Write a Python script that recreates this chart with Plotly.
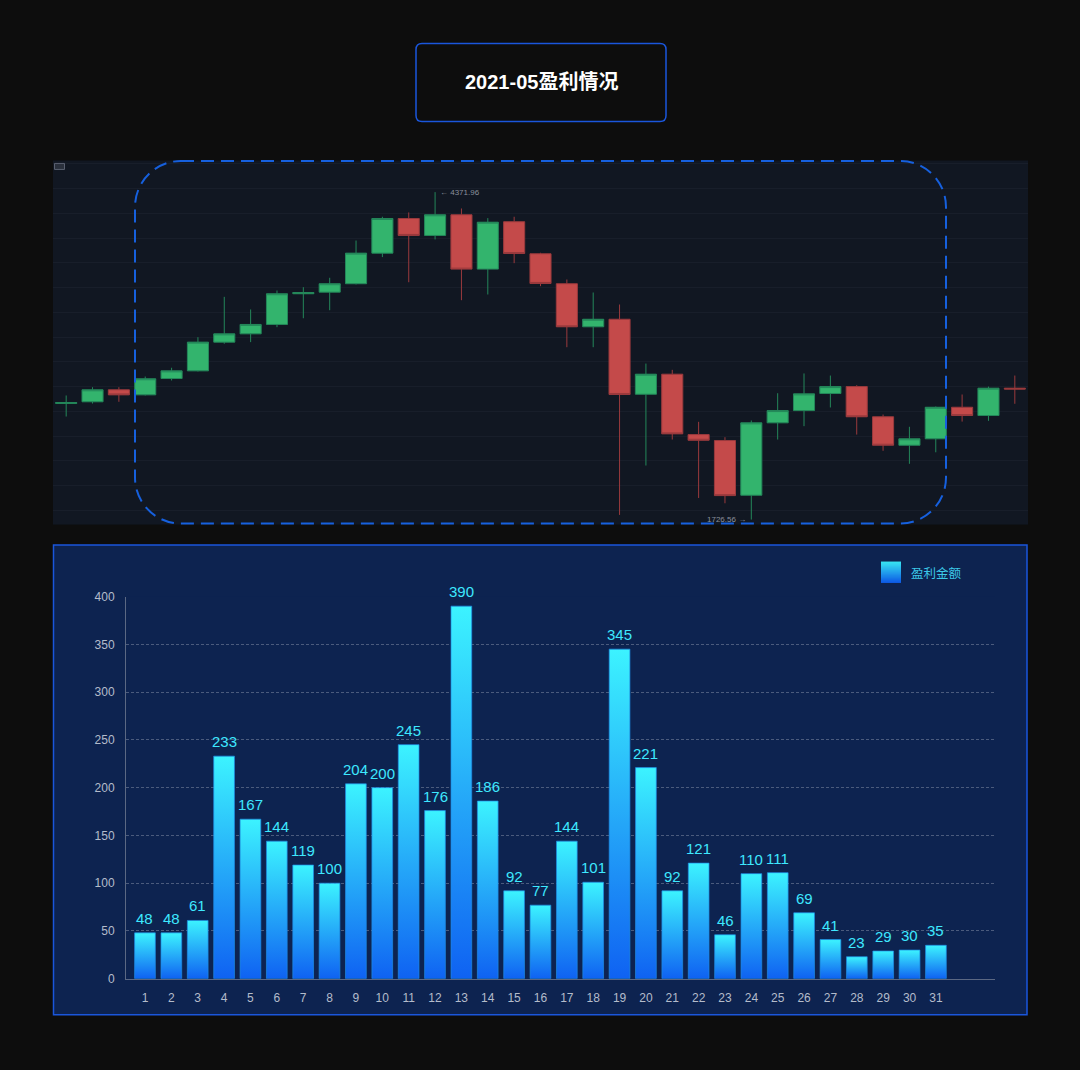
import plotly.graph_objects as go

# ---------------- data ----------------
title_text = "2021-05盈利情况"

# candlestick (top panel)
k_open  = [2664, 2678, 2775, 2734, 2866, 2928, 3160, 3227, 3303, 3551, 3564, 3632, 3879, 4159, 4022, 4189, 3750, 4133, 3874,
           3632, 3284, 3345, 2739, 2901, 2413, 2365, 1923, 2508, 2607, 2745, 2801, 2557, 2327, 2379, 2634, 2567, 2788]
k_close = [2672, 2775, 2734, 2864, 2928, 3160, 3227, 3303, 3551, 3561, 3632, 3879, 4159, 4022, 4189, 3750, 4129, 3876, 3634,
           3284, 3345, 2737, 2901, 2419, 2367, 1920, 2508, 2607, 2742, 2801, 2557, 2327, 2379, 2634, 2567, 2788, 2781]
k_high  = [2729, 2796, 2796, 2882, 2953, 3200, 3526, 3424, 3577, 3604, 3680, 3981, 4173, 4208, 4371.96, 4240, 4162, 4173, 3882,
           3666, 3561, 3464, 2987, 2936, 2516, 2392, 2527, 2747, 2907, 2890, 2812, 2575, 2476, 2640, 2737, 2801, 2890]
k_low   = [2559, 2664, 2678, 2729, 2850, 2923, 3147, 3160, 3281, 3353, 3418, 3626, 3847, 3644, 3990, 3499, 3545, 3798, 3612,
           3119, 3119, 1764, 2163, 2373, 1901, 1858, 1726.56, 2373, 2481, 2632, 2413, 2282, 2177, 2270, 2518, 2524, 2662]
k_x = list(range(len(k_open)))

# profit bars (bottom panel)
days = list(range(1, 32))
profit = [48, 48, 61, 233, 167, 144, 119, 100, 204, 200, 245, 176, 390, 186, 92, 77, 144, 101, 345, 221, 92, 121, 46, 110,
          111, 69, 41, 23, 29, 30, 35]
series_name = "盈利金额"
y_ticks = [0, 50, 100, 150, 200, 250, 300, 350, 400]

# ---------------- layout helpers ----------------
W, H = 1080, 1070
V_OFF, V_SCALE = 6.6, 0.9866   # compensates the vertical fit of the captured page
def px(x):
    return x / W
def py(y):
    return 1 - ((y - V_OFF) / V_SCALE) / H

BLUE = "#1a56db"
CJK = "Liberation Sans, Noto Sans CJK SC, sans-serif"
NUM = "Liberation Sans, Arial, sans-serif"

fig = go.Figure()

# ---------------- candlestick ----------------
fig.add_trace(go.Candlestick(
    x=k_x, open=k_open, high=k_high, low=k_low, close=k_close,
    increasing=dict(fillcolor="#33b46d", line=dict(color="#24875a", width=1)),
    decreasing=dict(fillcolor="#c44a4a", line=dict(color="#9a3a3d", width=1)),
    whiskerwidth=0, showlegend=False, hoverinfo="skip",
    xaxis="x", yaxis="y",
))

hi_idx = k_high.index(max(k_high))
lo_idx = k_low.index(min(k_low))

# ---------------- gradient bars ----------------
half = 0.393
for i, (d, v) in enumerate(zip(days, profit)):
    fig.add_trace(go.Scatter(
        x=[d - half, d + half, d + half, d - half, d - half],
        y=[0, 0, v, v, 0],
        mode="lines", fill="toself",
        line=dict(color="rgba(30,140,230,0.7)", width=1),
        fillgradient=dict(type="vertical", colorscale=[[0, "#0f62f2"], [1, "#3cf3ff"]]),
        showlegend=False, hoverinfo="skip",
        xaxis="x2", yaxis="y2",
    ))

shapes = []
annotations = []

# bar value labels
for d, v in zip(days, profit):
    annotations.append(dict(text=str(v), x=d, y=v, xref="x2", yref="y2", xanchor="center", yanchor="bottom",
                            yshift=4, showarrow=False,
                            font=dict(color="#3ee8ff", size=15, family=NUM)))

# title box
shapes.append(dict(type="path", xref="paper", yref="paper",
                   path=(f"M{px(422)},{py(43)} L{px(660)},{py(43)} Q{px(666)},{py(43)} {px(666)},{py(49)} "
                         f"L{px(666)},{py(115)} Q{px(666)},{py(121)} {px(660)},{py(121)} "
                         f"L{px(422)},{py(121)} Q{px(416)},{py(121)} {px(416)},{py(115)} "
                         f"L{px(416)},{py(49)} Q{px(416)},{py(43)} {px(422)},{py(43)} Z"),
                   line=dict(color=BLUE, width=1.5), fillcolor="rgba(0,0,0,0)", layer="below"))
annotations.append(dict(text=f"<b>{title_text}</b>", x=px(541), y=py(82), xref="paper", yref="paper",
                        xanchor="center", yanchor="middle",
                        showarrow=False, font=dict(color="#ffffff", size=20, family=CJK)))

# bottom panel box
shapes.append(dict(type="rect", xref="paper", yref="paper", x0=px(53.5), x1=px(1027), y0=py(1014), y1=py(544.5),
                   line=dict(color=BLUE, width=1.5), fillcolor="#0d2350", layer="below"))

# top panel icon
shapes.append(dict(type="rect", xref="paper", yref="paper", x0=px(54.5), x1=px(64.5), y0=py(169), y1=py(163),
                   line=dict(color="#5a6070", width=1), fillcolor="#2a303c", layer="above"))

# dashed rounded rectangle on candlestick
L, R, T, B, r = 135, 946, 160.5, 523, 46
k = 0.5523 * r
path = (f"M{px(L + r)},{py(T)} L{px(R - r)},{py(T)} "
        f"C{px(R - r + k)},{py(T)} {px(R)},{py(T + r - k)} {px(R)},{py(T + r)} "
        f"L{px(R)},{py(B - r)} "
        f"C{px(R)},{py(B - r + k)} {px(R - r + k)},{py(B)} {px(R - r)},{py(B)} "
        f"L{px(L + r)},{py(B)} "
        f"C{px(L + r - k)},{py(B)} {px(L)},{py(B - r + k)} {px(L)},{py(B - r)} "
        f"L{px(L)},{py(T + r)} "
        f"C{px(L)},{py(T + r - k)} {px(L + r - k)},{py(T)} {px(L + r)},{py(T)} Z")
shapes.append(dict(type="path", xref="paper", yref="paper", path=path,
                   line=dict(color="#1660de", width=2, dash="13px,7px"), fillcolor="rgba(0,0,0,0)", layer="above"))

# high / low markers
annotations.append(dict(text=f"← {max(k_high):.2f}", x=k_x[hi_idx], y=max(k_high), xref="x", yref="y",
                        xanchor="left", yanchor="middle", xshift=3, showarrow=False,
                        font=dict(color="#8a909c", size=8, family=NUM)))
annotations.append(dict(text=f"{min(k_low):.2f} →", x=k_x[lo_idx], y=min(k_low), xref="x", yref="y",
                        xanchor="right", yanchor="middle", xshift=-3, showarrow=False,
                        font=dict(color="#8a909c", size=8, family=NUM)))

# legend (icon with gradient strips + text)
n_strip = 21
c_top = (60, 243, 255)
c_bot = (15, 98, 242)
for s in range(n_strip):
    t = s / (n_strip - 1)
    col = tuple(int(c_top[j] + (c_bot[j] - c_top[j]) * t) for j in range(3))
    y0 = 561 + s * 21 / n_strip
    shapes.append(dict(type="rect", xref="paper", yref="paper", x0=px(881), x1=px(901),
                       y0=py(y0 + 21 / n_strip + 0.3), y1=py(y0), line=dict(width=0),
                       fillcolor=f"rgb{col}", layer="above"))
annotations.append(dict(text=series_name, x=px(909), y=py(572), xref="paper", yref="paper",
                        xanchor="left", yanchor="middle", showarrow=False,
                        font=dict(color="#3cc8e8", size=12.5, family="Noto Sans CJK SC, sans-serif")))

fig.update_layout(
    width=W, height=H,
    margin=dict(l=0, r=0, t=0, b=0),
    paper_bgcolor="#0d0d0d",
    plot_bgcolor="#111722",
    boxgap=0.2, boxgroupgap=0,
    shapes=shapes, annotations=annotations,
    xaxis=dict(domain=[px(53), px(1028)], range=[-0.5, len(k_open) - 0.5], showticklabels=False,
               showgrid=False, zeroline=False, rangeslider=dict(visible=False), fixedrange=True, anchor="y"),
    yaxis=dict(domain=[py(524), py(160)], range=[1686, 4628], showticklabels=False,
               showgrid=True, gridcolor="#181e2a", gridwidth=1, dtick=200, tick0=0, zeroline=False,
               anchor="x"),
    xaxis2=dict(domain=[px(126), px(995)], range=[0.28, 33.24], tickvals=days, ticktext=[str(d) for d in days],
                showgrid=False, zeroline=False, showline=True, linecolor="#5b6883", linewidth=1,
                tickfont=dict(color="#b4bccb", size=12, family=NUM), ticks="", ticklabelstandoff=8,
                anchor="y2"),
    yaxis2=dict(domain=[py(978), py(596)], range=[0, 400], tickvals=y_ticks,
                showgrid=True, gridcolor="rgba(150,160,180,0.45)", griddash="3px,2px", gridwidth=1,
                zeroline=False, showline=True, linecolor="#5b6883", linewidth=1,
                tickfont=dict(color="#b4bccb", size=12, family=NUM), ticks="", ticklabelstandoff=8,
                anchor="x2"),
    showlegend=False,
)
fig.add_shape(type="rect", xref="x2 domain", yref="y2 domain", x0=0, x1=1, y0=0, y1=1,
              fillcolor="#0d2350", line=dict(width=0), layer="below")

page_js = ("var s=document.body.style;s.margin='0';s.padding='0';s.background='#0d0d0d';"
           "s.overflow='hidden';s.height='1070px';s.lineHeight='0';"
           "var h=document.documentElement.style;h.overflow='hidden';h.height='1070px';h.background='#0d0d0d';")

fig.write_html("out.html", config={"displayModeBar": False}, post_script=page_js)
